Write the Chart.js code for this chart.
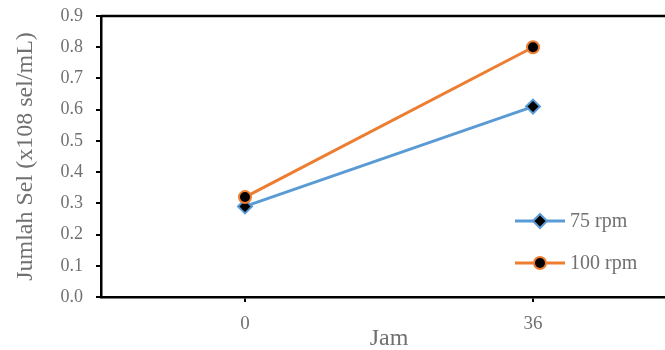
<!DOCTYPE html>
<html>
<head>
<meta charset="utf-8">
<script src="https://cdn.jsdelivr.net/npm/chart.js@4.4.1/dist/chart.umd.min.js"></script>
<style>
  html, body { margin: 0; padding: 0; background: #fff; overflow: hidden; }
  #wrap { width: 800px; height: 350px; }
</style>
</head>
<body>
<div id="wrap"><canvas id="myChart" width="800" height="350"></canvas></div>
<script>
var hours = ["0", "36"];
var rpm75 = [0.29, 0.61];
var rpm100 = [0.32, 0.80];
var yTicks = [0, 0.1, 0.2, 0.3, 0.4, 0.5, 0.6, 0.7, 0.8, 0.9];

var grey = '#707070';
var serif = '"Liberation Serif", "Times New Roman", serif';

// Excel style legend: a short line with the marker, placed inside the plot
var lineLegend = {
  id: 'lineLegend',
  afterDraw: function (chart) {
    var ctx = chart.ctx;
    var rows = [221, 263];
    ctx.save();
    chart.data.datasets.forEach(function (ds, i) {
      var y = rows[i];
      ctx.strokeStyle = ds.borderColor;
      ctx.lineWidth = ds.borderWidth;
      ctx.beginPath();
      ctx.moveTo(515, y);
      ctx.lineTo(565, y);
      ctx.stroke();
      ctx.fillStyle = ds.pointBackgroundColor;
      ctx.strokeStyle = ds.pointBorderColor;
      ctx.lineWidth = ds.pointBorderWidth;
      Chart.helpers.drawPoint(ctx, {pointStyle: ds.pointStyle, radius: ds.pointRadius, borderWidth: ds.pointBorderWidth}, 540, y);
      ctx.fillStyle = grey;
      ctx.font = '20px ' + serif;
      ctx.textBaseline = 'middle';
      ctx.fillText(ds.label, 570, y + 1);
    });
    ctx.restore();
  }
};

// top edge of the plot frame (left and bottom come from the axes)
var plotTop = {
  id: 'plotTop',
  afterDatasetsDraw: function (chart) {
    var a = chart.chartArea;
    var ctx = chart.ctx;
    ctx.save();
    ctx.strokeStyle = '#000';
    ctx.lineWidth = 2.5;
    ctx.beginPath();
    ctx.moveTo(a.left, a.top);
    ctx.lineTo(a.right, a.top);
    ctx.stroke();
    ctx.restore();
  }
};

var ctx = document.getElementById("myChart").getContext('2d');
var myChart = new Chart(ctx, {
  type: 'line',
  data: {
    labels: hours,
    datasets: [{
      label: '75 rpm',
      data: rpm75,
      order: 1,
      borderColor: '#5B9BD5',
      borderWidth: 3,
      pointStyle: 'rectRot',
      pointRadius: 7,
      pointBackgroundColor: '#000',
      pointBorderColor: '#5B9BD5',
      pointBorderWidth: 2
    }, {
      label: '100 rpm',
      data: rpm100,
      order: 0,
      borderColor: '#ED7D31',
      borderWidth: 3,
      pointStyle: 'circle',
      pointRadius: 6,
      pointBackgroundColor: '#000',
      pointBorderColor: '#ED7D31',
      pointBorderWidth: 2
    }]
  },
  options: {
    responsive: false,
    animation: false,
    layout: { padding: { top: 16, right: 123, left: 0, bottom: 0 } },
    plugins: {
      legend: { display: false },
      tooltip: { enabled: false }
    },
    scales: {
      x: {
        offset: true,
        grid: { display: true, offset: false, drawOnChartArea: false, color: '#000', lineWidth: 2, tickLength: 5 },
        border: { color: '#000', width: 2.5 },
        ticks: { color: grey, font: { family: serif, size: 19, lineHeight: 1.2 }, padding: 11 },
        title: { display: true, text: 'Jam', color: grey, font: { family: serif, size: 24, lineHeight: 1.2 }, padding: { top: 0, bottom: -3 } },
        afterFit: function (s) { s.height = 53; s.paddingLeft = 0; s.paddingRight = 0; }
      },
      y: {
        min: 0,
        max: 0.9,
        afterBuildTicks: function (s) { s.ticks = yTicks.map(function (v) { return { value: v }; }); },
        grid: { display: true, drawOnChartArea: false, color: '#000', lineWidth: 2, tickLength: 5 },
        border: { color: '#000', width: 2.5 },
        ticks: {
          color: grey,
          font: { family: serif, size: 18 },
          padding: 13,
          callback: function (v) { return Number(v).toFixed(1); }
        },
        title: { display: true, text: 'Jumlah Sel (x108 sel/mL)', color: grey, font: { family: serif, size: 24, lineHeight: 1.2 }, padding: { top: 11, bottom: 0 } },
        afterFit: function (s) { s.width = 101; s.paddingTop = 0; s.paddingBottom = 0; }
      }
    }
  },
  plugins: [plotTop, lineLegend]
});
</script>
</body>
</html>
